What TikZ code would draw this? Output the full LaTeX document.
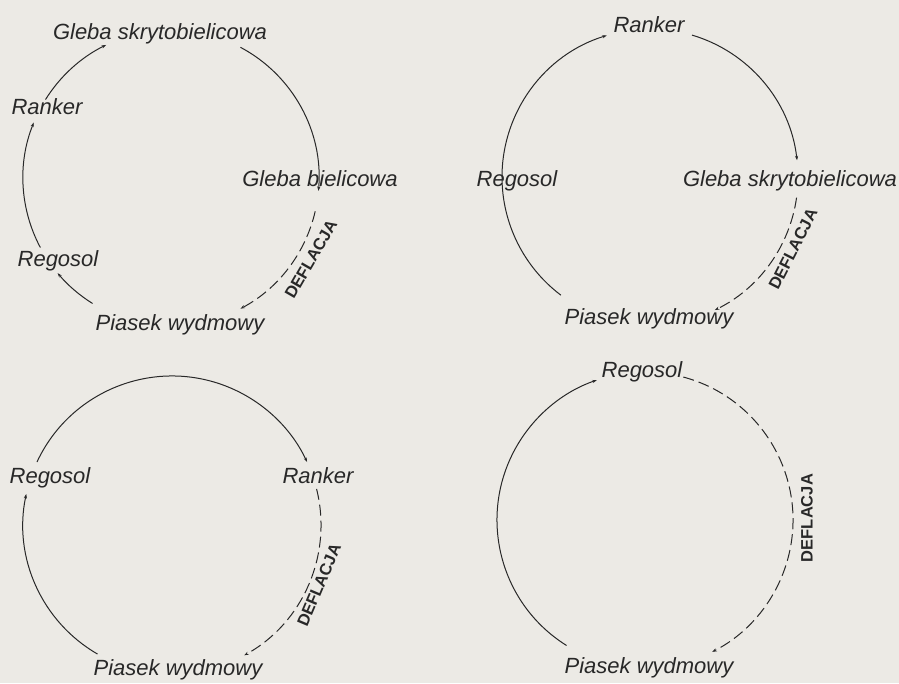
\documentclass[tikz,border=0pt]{standalone}
\usepackage{fontspec}
\setmainfont{Liberation Sans}
\usetikzlibrary{arrows.meta}
\definecolor{paper}{RGB}{236,234,229}
\definecolor{ink}{RGB}{40,40,40}
\begin{document}
\begin{tikzpicture}[x=1pt,y=1pt,
  lbl/.style={anchor=base,inner sep=0pt,text=ink,font=\fontsize{22}{24}\selectfont\itshape},
  defl/.style={inner sep=0pt,text=ink,font=\fontsize{16.5}{18}\selectfont\bfseries},
  cyc/.style={draw=ink,line width=1pt},
  arr/.style={-{Stealth[length=4.5pt,width=3.2pt]}},
  dsh/.style={dash pattern=on 11pt off 5pt}]
\fill[paper] (0,0) rectangle (899,683);
\useasboundingbox (0,0) rectangle (899,683);
% centres
\coordinate (c1) at (171,505);
\coordinate (c2) at (650,506);
\coordinate (c3) at (172,158);
\coordinate (c4) at (645,163);
% ---------- circle 1 ----------
\node[lbl] (gs1) at (160,643) {Gleba skrytobielicowa};
\node[lbl] (ra1) at (47,568) {Ranker};
\node[lbl] (gb1) at (320,496) {Gleba bielicowa};
\node[lbl] (re1) at (58,416) {Regosol};
\node[lbl] (pi1) at (180,352) {Piasek wydmowy};
\node[defl,rotate=60] (de1) at (311,424) {DEFLACJA};
\path (c1) ++(238:148pt) coordinate (p1a);
\path (c1) ++(208:148pt) coordinate (p1b);
\path (c1) ++(148:148pt) coordinate (p1c);
\path (c1) ++(62:148pt) coordinate (p1d);
\path (c1) ++(-13:148pt) coordinate (p1e);
\draw[cyc,arr] (p1a) arc[start angle=238,end angle=220,radius=148pt];
\draw[cyc,arr] (p1b) arc[start angle=208,end angle=158,radius=148pt];
\draw[cyc,arr] (p1c) arc[start angle=148,end angle=116,radius=148pt];
\draw[cyc,arr] (p1d) arc[start angle=62,end angle=-5,radius=148pt];
\draw[cyc,arr,dsh] (p1e) arc[start angle=-13,end angle=-62,radius=148pt];
% ---------- circle 2 ----------
\node[lbl] (ra2) at (649,650) {Ranker};
\node[lbl] (re2) at (517,496) {Regosol};
\node[lbl] (gs2) at (790,496) {Gleba skrytobielicowa};
\node[lbl] (pi2) at (649,358) {Piasek wydmowy};
\node[defl,rotate=63] (de2) at (793,434) {DEFLACJA};
\path (c2) ++(233:148pt) coordinate (p2a);
\path (c2) ++(180:148pt) coordinate (p2b);
\path (c2) ++(73.5:148pt) coordinate (p2c);
\path (c2) ++(-8:148pt) coordinate (p2d);
\draw[cyc] (p2a) arc[start angle=233,end angle=180,radius=148pt];
\draw[cyc,arr] (p2b) arc[start angle=180,end angle=107,radius=148pt];
\draw[cyc,arr] (p2c) arc[start angle=73.5,end angle=6.5,radius=148pt];
\draw[cyc,arr,dsh] (p2d) arc[start angle=-8,end angle=-64,radius=148pt];
% ---------- circle 3 ----------
\node[lbl] (re3) at (50,200) {Regosol};
\node[lbl] (ra3) at (318,200) {Ranker};
\node[lbl] (pi3) at (178,8) {Piasek wydmowy};
\node[defl,rotate=67] (de3) at (319,98) {DEFLACJA};
\path (c3) ++(155:149pt) coordinate (p3a);
\path (c3) ++(240:149pt) coordinate (p3b);
\path (c3) ++(14:149pt) coordinate (p3c);
\draw[cyc,arr] (p3a) arc[start angle=155,end angle=25,radius=149pt];
\draw[cyc,arr] (p3b) arc[start angle=240,end angle=168,radius=149pt];
\draw[cyc,arr,dsh] (p3c) arc[start angle=14,end angle=-61,radius=149pt];
% ---------- circle 4 ----------
\node[lbl] (re4) at (642,305) {Regosol};
\node[lbl] (pi4) at (649,10) {Piasek wydmowy};
\node[defl,rotate=90] (de4) at (807,165) {DEFLACJA};
\path (c4) ++(238:148pt) coordinate (p4a);
\path (c4) ++(75:148pt) coordinate (p4b);
\draw[cyc,arr] (p4a) arc[start angle=238,end angle=109,radius=148pt];
\draw[cyc,arr,dsh] (p4b) arc[start angle=75,end angle=-63,radius=148pt];
\end{tikzpicture}
\end{document}
